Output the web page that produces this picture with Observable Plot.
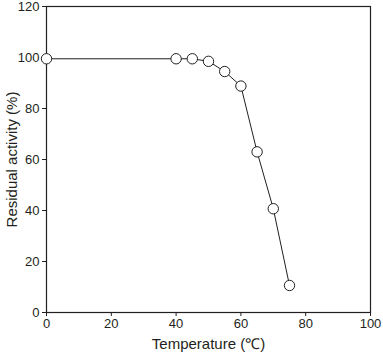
<!DOCTYPE html>
<html><head><meta charset="utf-8">
<script src="https://cdn.jsdelivr.net/npm/d3@7"></script>
<script src="https://cdn.jsdelivr.net/npm/@observablehq/plot@0.6"></script>
<style>body{margin:0;background:#fff}</style>
</head><body><div id="chart"></div>
<script>
const temperature = [0, 40, 45, 50, 55, 60, 65, 70, 75];
const activity = [99.5, 99.5, 99.5, 98.5, 94.5, 88.8, 63, 40.7, 10.6];
const xTicks = [0, 20, 40, 60, 80, 100];
const yTicks = [0, 20, 40, 60, 80, 100, 120];
const data = temperature.map((t, i) => ({t, a: activity[i]}));

const chart = Plot.plot({
  width: 383, height: 354,
  marginLeft: 46, marginRight: 13, marginTop: 6, marginBottom: 42,
  style: {fontFamily: "'Liberation Sans', Arial, sans-serif", fontSize: "13px", color: "#231f20", background: "#fff"},
  x: {domain: [0, 100], ticks: xTicks, tickSize: 4, tickPadding: 2, label: "Temperature (℃)", labelAnchor: "center", labelArrow: "none", labelOffset: 36},
  y: {domain: [0, 120], ticks: yTicks, tickSize: 4, tickPadding: 3, label: "Residual activity (%)", labelAnchor: "center", labelArrow: "none", labelOffset: 40},
  marks: [
    Plot.frame({stroke: "#231f20", strokeWidth: 1.2}),
    Plot.line(data, {x: "t", y: "a", stroke: "#231f20", strokeWidth: 1}),
    Plot.dot(data, {x: "t", y: "a", r: 5.2, fill: "#fff", stroke: "#231f20", strokeWidth: 1})
  ]
});
chart.querySelectorAll("[aria-label='x-axis label'] text, [aria-label='y-axis label'] text").forEach(t => t.style.fontSize = "15px");
document.getElementById("chart").append(chart);
</script></body></html>
